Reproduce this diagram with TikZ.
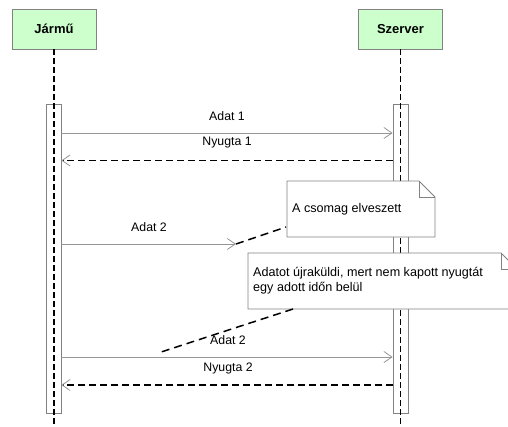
\documentclass[tikz,border=0pt]{standalone}
\usepackage{fontspec}
\setmainfont{Liberation Sans}
\usetikzlibrary{arrows.meta}

\definecolor{actorfill}{RGB}{204,255,204}
\definecolor{edgegray}{RGB}{130,130,130}
\definecolor{msggray}{RGB}{150,150,150}

\tikzset{
  actor/.style={draw=edgegray, fill=actorfill, line width=0.8pt,
    minimum width=84pt, minimum height=40pt, inner sep=0pt,
    font=\bfseries\fontsize{13}{15}\selectfont},
  activation/.style={draw=edgegray, fill=white, line width=0.8pt,
    minimum width=15pt, minimum height=309pt, inner sep=0pt},
  lifeline/.style={black, line width=1.3pt, dash pattern=on 6pt off 3pt},
  tipgray/.style={-{Straight Barb[length=8pt,width=11pt,color=msggray,line width=0.8pt]}},
  callmsg/.style={tipgray, draw=msggray, line width=0.8pt},
  replymsg/.style={tipgray, draw=black, line width=1.1pt, dash pattern=on 7pt off 4pt},
  anchorline/.style={black, line width=1.5pt, dash pattern=on 8pt off 5pt},
  notebg/.style={draw=edgegray, fill=white, line width=0.8pt},
  label/.style={font=\fontsize{12.3}{14}\selectfont, inner sep=0pt},
  notetext/.style={font=\fontsize{12.6}{15}\selectfont, inner sep=0pt, align=left, anchor=west}
}

% note outline with a folded top-right corner
\newcommand{\notefold}[5]{%
  \path[notebg] (#1,#2) -- (#3-#5,#2) -- (#3,#2+#5) -- (#3,#4) -- (#1,#4) -- cycle;
  \draw[edgegray, line width=0.8pt] (#3-#5,#2) -- (#3-#5,#2+#5) -- (#3,#2+#5);
}

\begin{document}
\begin{tikzpicture}[x=1pt, y=-1pt]
\useasboundingbox (0,0) rectangle (508,426);
\clip (0,0) rectangle (508,426);

% participants
\node[actor] (jar) at (54,29) {Jármű};
\node[actor] (szer) at (400.5,29) {Szerver};

% activation bars
\node[activation] (ajar) at (53.5,258.5) {};
\node[activation] (aszer) at (400.5,258.5) {};

% lifelines
\coordinate (jarEnd) at (54,426);
\coordinate (szerEnd) at (400.5,426);
\draw[lifeline] (jar.south) -- (jarEnd);
\draw[lifeline] (szer.south) -- (szerEnd);

% first exchange
\draw[callmsg] (ajar.east |- 0,133) -- (aszer.west |- 0,133);
\node[label] (l1) at (227,116) {Adat 1};
\draw[replymsg] (aszer.west |- 0,160.5) -- (ajar.east |- 0,160.5);
\node[label] (l2) at (227,143) {Nyugta 1};

% lost packet
\coordinate (lost) at (236,244);
\draw[callmsg] (ajar.east |- 0,244) -- (lost);
\node[label] (l3) at (149,227) {Adat 2};

\notefold{287}{181}{435}{237}{16}
\node[notetext] (n1) at (292,209) {A csomag elveszett};
\coordinate (n1foot) at (286,227);
\draw[anchorline] (lost) -- (n1foot);

% retransmission
\draw[callmsg] (ajar.east |- 0,357) -- (aszer.west |- 0,357);
\node[label] (l4) at (228,340) {Adat 2};
\draw[replymsg] (aszer.west |- 0,385) -- (ajar.east |- 0,385);
\node[label] (l5) at (228,368) {Nyugta 2};

\notefold{248}{253}{517}{309}{16}
\node[notetext] (n2) at (253,280.5) {Adatot újraküldi, mert nem kapott nyugtát\\egy adott időn belül};
\coordinate (n2foot) at (293,309);
\coordinate (n2tail) at (158,353);
\draw[anchorline] (n2foot) -- (n2tail);
\end{tikzpicture}
\end{document}
